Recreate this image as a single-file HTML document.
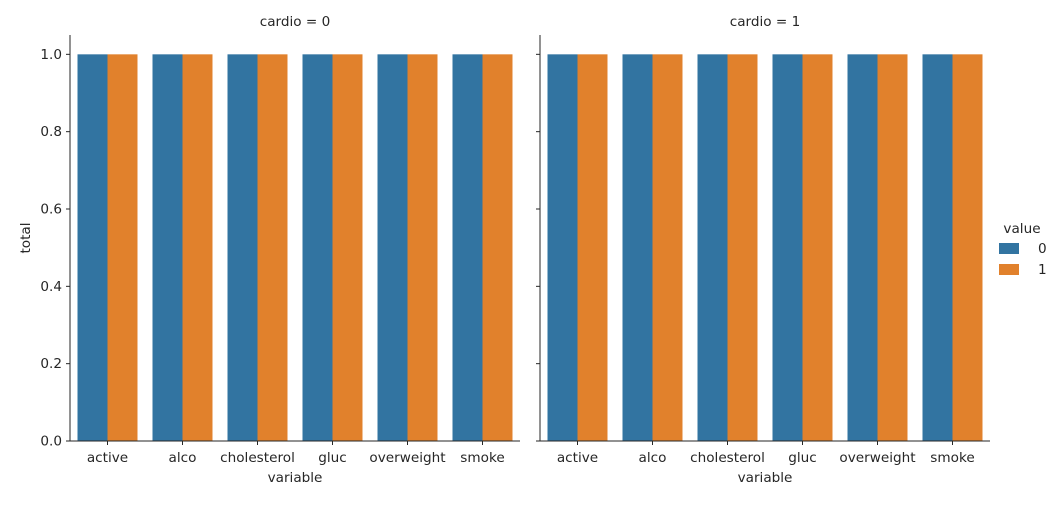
<!DOCTYPE html>
<html><head><meta charset="utf-8"><style>
body{margin:0;background:#fff}
svg text{font-family:"DejaVu Sans","Liberation Sans",sans-serif;font-size:13.6px;fill:#262626}
</style></head><body>
<svg id="chart" width="1058" height="500" xmlns="http://www.w3.org/2000/svg"></svg>
<script>
const categories=["active","alco","cholesterol","gluc","overweight","smoke"];
const panels=["cardio = 0","cardio = 1"];
const hues=["0","1"];
const values0=[[1,1,1,1,1,1],[1,1,1,1,1,1]]; // panel cardio=0: hue 0, hue 1
const values1=[[1,1,1,1,1,1],[1,1,1,1,1,1]]; // panel cardio=1
const yTicks=[0,0.2,0.4,0.6,0.8,1.0];
const colors=["#3274a1","#e1812c"];
const svg=document.getElementById('chart');
const NS="http://www.w3.org/2000/svg";
function mk(t,a,p){const e=document.createElementNS(NS,t);for(const k in a)e.setAttribute(k,a[k]);(p||svg).appendChild(e);return e;}
const y0=441,yTop=35,ymax=1.05;
function yS(v){return y0-(v/ymax)*(y0-yTop);}
const panelX=[70,540],pw=450;
const allVals=[values0,values1];
panels.forEach((title,pi)=>{
  const g=mk('g',{});
  
  
  const x0=panelX[pi],step=pw/categories.length,bw=step*0.8/hues.length;
  allVals[pi].forEach((series,hi)=>{
    series.forEach((v,ci)=>{
      const x=x0+step*ci+step*0.1+bw*hi;
      const r=mk('rect',{x:x,y:yS(v),width:bw,height:y0-yS(v),fill:colors[hi]},g);
      
      
    });
  });
  mk('line',{x1:x0,y1:yTop,x2:x0,y2:y0,stroke:'#262626','stroke-width':1},g);
  mk('line',{x1:x0,y1:y0,x2:x0+pw,y2:y0,stroke:'#262626','stroke-width':1},g);
  yTicks.forEach(t=>{
    mk('line',{x1:x0-4,y1:yS(t),x2:x0,y2:yS(t),stroke:'#262626'},g);
    if(pi===0){const tx=mk('text',{x:x0-8,y:yS(t)+4.5,'text-anchor':'end'},g);tx.textContent=t.toFixed(1);
      }
  });
  categories.forEach((c,ci)=>{
    const cx=x0+step*(ci+0.5);
    mk('line',{x1:cx,y1:y0,x2:cx,y2:y0+4,stroke:'#262626'},g);
    const tx=mk('text',{x:cx,y:y0+21,'text-anchor':'middle'},g);tx.textContent=c;
    
  });
  const tt=mk('text',{x:x0+pw/2,y:26,'text-anchor':'middle'},g);tt.textContent=title;
  
  const xl=mk('text',{x:x0+pw/2,y:482,'text-anchor':'middle'},g);xl.textContent='variable';
  
});
const yl=mk('text',{x:30,y:238,'text-anchor':'middle',transform:'rotate(-90 30 238)'});yl.textContent='total';

const lg=mk('g',{});


const lt=mk('text',{x:1022,y:233,'text-anchor':'middle'},lg);lt.textContent='value';
hues.forEach((h,i)=>{
  const r=mk('rect',{x:999,y:243+i*21,width:20,height:11,fill:colors[i]},lg);
  
  const t=mk('text',{x:1038,y:253+i*21},lg);t.textContent=h;
  
});
</script>
</body></html>
